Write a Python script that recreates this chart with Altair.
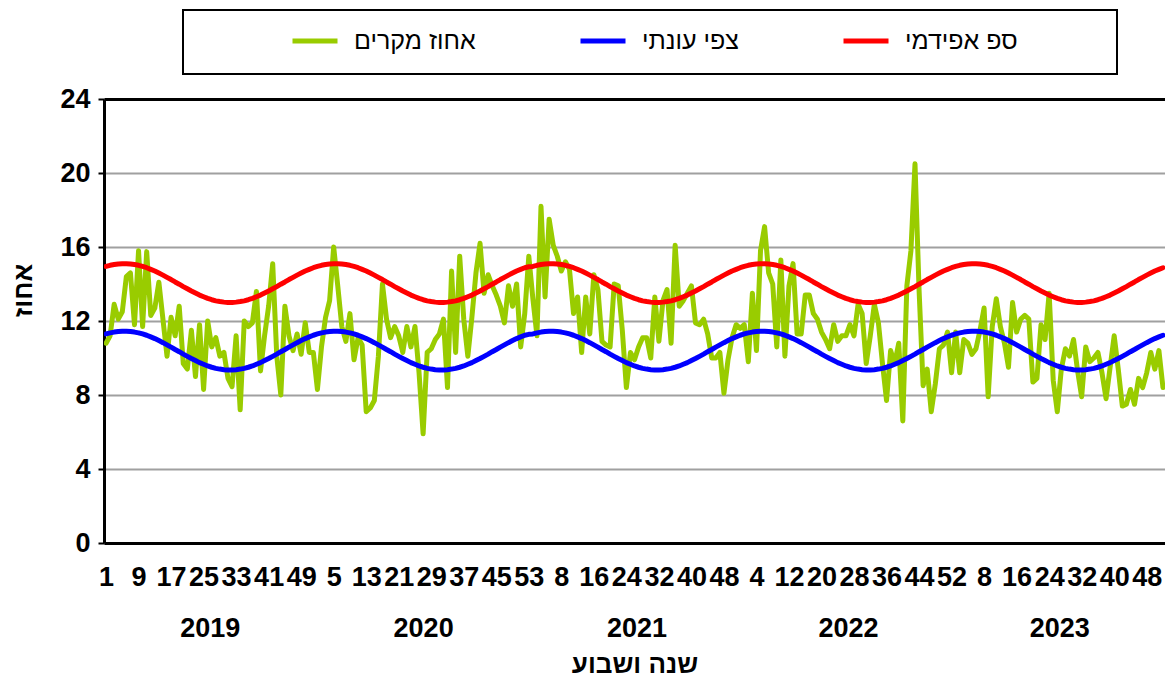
import json
import altair as alt
import pandas as pd

# ---------------- data ----------------
years = [2019, 2020, 2021, 2022, 2023]
weeks_per_year = [52, 53, 52, 52, 52]

week_tick_labels = ["1", "9", "17", "25", "33", "41", "49", "5", "13", "21", "29", "37", "45", "53",
                    "8", "16", "24", "32", "40", "48", "4", "12", "20", "28", "36", "44", "52",
                    "8", "16", "24", "32", "40", "48"]
y_tick_values = [0, 4, 8, 12, 16, 20, 24]

cases_2019 = [10.8, 11.2, 12.9, 12.1, 12.5, 14.4, 14.6, 11.8, 15.8, 11.7,
              15.75, 12.3, 12.7, 14.1, 12.1, 10.1, 12.2, 11.2, 12.8, 9.7,
              9.4, 11.5, 9.0, 11.8, 8.3, 12.0, 10.6, 11.1, 10.1, 10.3,
              8.9, 8.45, 11.2, 7.2, 12.0, 11.7, 11.9, 13.6, 9.3, 11.2,
              12.8, 15.1, 10.1, 8.0, 12.8, 11.2, 10.4, 11.3, 10.2, 11.9,
              10.3, 10.3]
cases_2020 = [8.3, 10.6, 12.2, 13.1, 16.0, 13.9, 11.7, 10.9, 12.4, 9.9,
              11.1, 10.7, 7.1, 7.3, 7.7, 10.1, 14.0, 12.1, 11.1, 11.7,
              11.2, 10.3, 11.7, 10.6, 11.7, 9.2, 5.9, 10.3, 10.5, 11.0,
              11.3, 12.1, 8.4, 14.7, 10.3, 15.5, 12.1, 10.1, 12.2, 14.6,
              16.2, 13.5, 14.5, 13.9, 13.4, 12.8, 11.9, 13.9, 12.8, 14.0,
              10.6, 12.4, 15.5]
cases_2021 = [13.2, 11.2, 18.2, 13.3, 17.5, 16.1, 15.5, 14.7, 15.2, 14.8,
              12.4, 13.3, 10.3, 13.3, 11.3, 14.5, 13.7, 10.9, 10.7, 10.6,
              14.0, 13.9, 11.5, 8.4, 10.3, 9.9, 10.6, 11.1, 11.1, 10.0,
              13.3, 10.9, 13.1, 13.7, 10.8, 16.1, 12.8, 13.1, 13.5, 13.9,
              11.9, 11.8, 12.1, 11.3, 10.0, 10.0, 10.3, 8.1, 9.9, 11.1,
              11.8, 11.6]
cases_2022 = [11.8, 9.8, 13.5, 10.4, 15.8, 17.1, 14.6, 14.0, 10.6, 15.3,
              10.1, 13.9, 15.1, 11.3, 11.3, 13.4, 13.4, 12.4, 12.1, 11.4,
              11.0, 10.5, 11.8, 10.9, 11.2, 11.2, 11.8, 11.2, 12.9, 12.4,
              9.7, 11.2, 12.9, 11.9, 9.7, 7.7, 10.4, 9.7, 10.8, 6.6,
              13.9, 15.8, 20.5, 13.7, 8.5, 9.4, 7.1, 8.6, 10.5, 10.7,
              11.4, 9.2]
cases_2023 = [11.4, 9.2, 11.0, 10.8, 10.2, 10.5, 11.5, 12.7, 7.9, 11.7,
              13.2, 11.7, 10.8, 9.5, 13.0, 11.4, 12.1, 12.3, 12.1, 8.7,
              8.9, 11.8, 11.0, 13.5, 8.8, 7.1, 9.4, 10.5, 10.1, 11.0,
              9.3, 7.9, 10.6, 9.8, 10.0, 10.3, 9.2, 7.8, 9.5, 11.2,
              9.4, 7.4, 7.5, 8.3, 7.5, 8.9, 8.4, 9.2, 10.3, 9.4,
              10.4, 8.4]
cases_by_year = [cases_2019, cases_2020, cases_2021, cases_2022, cases_2023]

# seasonal expectation and epidemic threshold, by week of year (1..53)
expected_by_week = [11.30, 11.36, 11.40, 11.43, 11.45, 11.45, 11.43, 11.40, 11.36, 11.30,
                    11.23, 11.14, 11.05, 10.94, 10.83, 10.71, 10.59, 10.46, 10.34, 10.21,
                    10.09, 9.97, 9.86, 9.75, 9.66, 9.57, 9.50, 9.44, 9.40, 9.37,
                    9.35, 9.35, 9.37, 9.40, 9.44, 9.50, 9.57, 9.66, 9.75, 9.86,
                    9.97, 10.09, 10.21, 10.34, 10.46, 10.59, 10.71, 10.83, 10.94, 11.05,
                    11.14, 11.23, 11.28]
threshold_by_week = [14.95, 15.01, 15.05, 15.08, 15.10, 15.10, 15.08, 15.05, 15.01, 14.95,
                     14.88, 14.79, 14.70, 14.59, 14.48, 14.36, 14.24, 14.11, 13.99, 13.86,
                     13.74, 13.62, 13.51, 13.40, 13.31, 13.22, 13.15, 13.09, 13.05, 13.02,
                     13.00, 13.00, 13.02, 13.05, 13.09, 13.15, 13.22, 13.31, 13.40, 13.51,
                     13.62, 13.74, 13.86, 13.99, 14.11, 14.24, 14.36, 14.48, 14.59, 14.70,
                     14.79, 14.88, 14.93]

series_names = ["אחוז מקרים", "צפי עונתי", "ספ אפידמי"]
series_colors = ["#99CC00", "#0000FF", "#FF0000"]

y_title = "אחוז"
x_title = "שנה ושבוע"

# ---------------- build tables ----------------
week_rows = []
i = 0
for yr, n, vals in zip(years, weeks_per_year, cases_by_year):
    for w in range(1, n + 1):
        week_rows.append({"idx": i, "year": yr, "week": w, "cases": vals[w - 1],
                          "expected": expected_by_week[w - 1],
                          "threshold": threshold_by_week[w - 1]})
        i += 1
wk = pd.DataFrame(week_rows)
n_weeks = len(wk)

long_parts = []
for name, col in zip(series_names, ["cases", "expected", "threshold"]):
    part = wk[["idx"]].copy()
    part["value"] = wk[col]
    part["series"] = name
    long_parts.append(part)
long_df = pd.concat(long_parts, ignore_index=True)

starts = [sum(weeks_per_year[:k]) for k in range(len(years))]
year_centers = [s + (n - 1) / 2 for s, n in zip(starts, weeks_per_year)]
year_df = pd.DataFrame({"center": year_centers, "year": [str(y) for y in years]})
tick_positions = [k * 8 for k in range(len(week_tick_labels))]

FONT = "Liberation Sans"
NUM_SIZE = 27

x_scale = alt.Scale(domain=[-0.5, n_weeks - 0.5], nice=False, zero=False)

week_label_expr = f"{json.dumps(week_tick_labels)}[round(datum.value / 8)]"
year_label_expr = (f"{json.dumps([str(y) for y in years])}"
                   f"[indexof({json.dumps(year_centers)}, datum.value)]")

lines = alt.Chart(long_df).mark_line(strokeWidth=5, clip=True,
                                     strokeJoin="round", strokeCap="round").encode(
    x=alt.X("idx:Q", scale=x_scale,
            axis=alt.Axis(orient="bottom", values=tick_positions, labelExpr=week_label_expr,
                          grid=False, ticks=False, domain=True, domainColor="black",
                          domainWidth=3, labelFont=FONT, labelFontSize=NUM_SIZE,
                          labelFontWeight="bold", labelColor="black", labelPadding=21,
                          labelOverlap=False, labelFlush=False, labelBaseline="top",
                          title=None)),
    y=alt.Y("value:Q", scale=alt.Scale(domain=[0, 24], nice=False),
            axis=alt.Axis(values=y_tick_values, grid=True,
                          gridColor={"condition": {"test": "datum.value === 24", "value": "black"},
                                     "value": "#a0a0a0"},
                          gridWidth={"condition": {"test": "datum.value === 24", "value": 3},
                                     "value": 2},
                          domainColor="black", domainWidth=3, tickColor="black",
                          tickWidth=2, tickSize=6, labelFont=FONT, labelFontSize=NUM_SIZE,
                          labelFontWeight="bold", labelColor="black", labelPadding=8,
                          title=y_title, titleFont=FONT, titleFontSize=26,
                          titleFontWeight="bold", titleColor="black", titleX=-81, titleY=191,
                          titleAngle=270, titleAlign="center", titleBaseline="middle")),
    color=alt.Color("series:N", scale=alt.Scale(domain=series_names, range=series_colors),
                    legend=alt.Legend(orient="none", legendX=79, legendY=-89,
                                      direction="horizontal", columns=3,
                                      title=" ", titleOrient="right", titlePadding=79,
                                      titleFontSize=8,
                                      padding=20, strokeColor="black",
                                      fillColor="white", symbolType="stroke",
                                      symbolStrokeWidth=5, symbolSize=2025,
                                      symbolOffset=87, labelOffset=14,
                                      clipHeight=22, labelFont=FONT, labelFontSize=25,
                                      labelColor="black", columnPadding=15,
                                      labelLimit=600)),
)

year_layer = alt.Chart(year_df).mark_point(opacity=0).encode(
    x=alt.X("center:Q", scale=x_scale,
            axis=alt.Axis(orient="bottom", values=year_centers, labelExpr=year_label_expr,
                          grid=False, ticks=False, domain=False, labelFont=FONT,
                          labelFontSize=NUM_SIZE, labelFontWeight="bold", labelColor="black",
                          labelPadding=72, labelOverlap=False, labelBaseline="top",
                          title=x_title, titleFont=FONT, titleFontSize=26,
                          titleFontWeight="bold", titleColor="black", titlePadding=10)),
)

chart = alt.layer(lines, year_layer).resolve_axis(x="independent").properties(
    width=1061, height=444,
    padding={"left": 96, "top": 91, "right": 0, "bottom": 135},
    autosize=alt.AutoSizeParams(type="none"),
    background="white",
).configure_view(stroke=None).configure_legend(strokeWidth=2)

chart.save("out.html", embed_options={"renderer": "svg", "actions": False})
